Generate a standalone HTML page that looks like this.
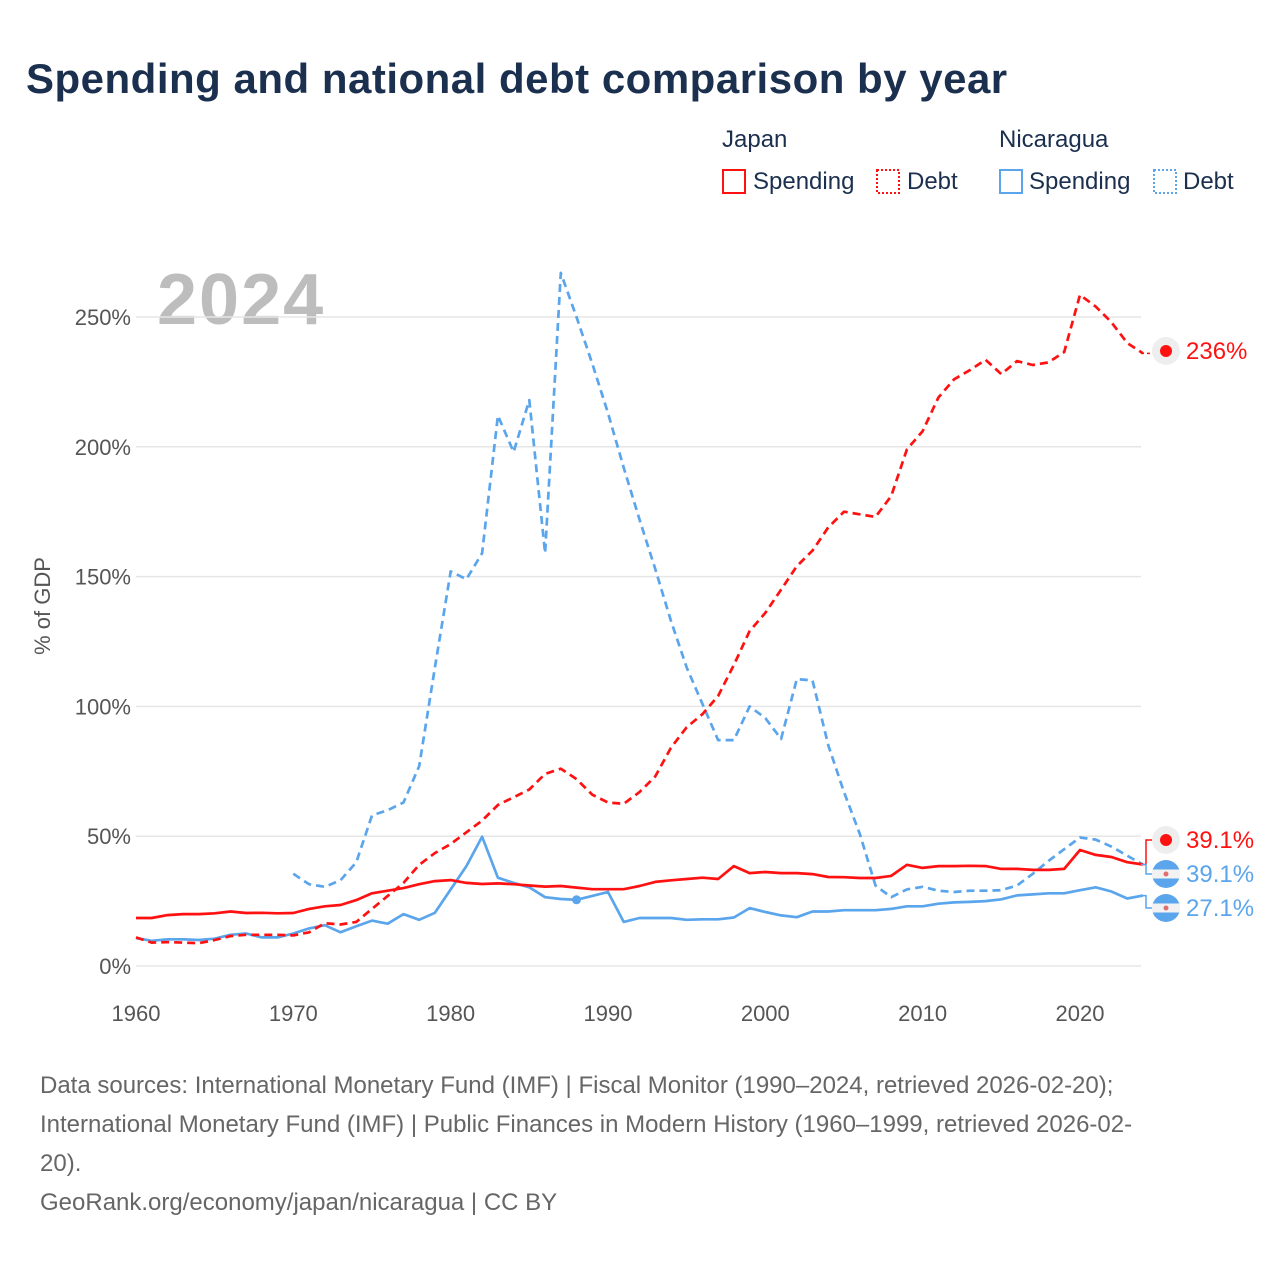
<!DOCTYPE html>
<html><head><meta charset="utf-8"><style>
body{margin:0;background:#fff;font-family:"Liberation Sans",sans-serif}
svg{display:block}
</style></head><body>
<svg width="1280" height="1280" id="chart" xmlns="http://www.w3.org/2000/svg">
<text x="26" y="93" font-size="42" font-weight="bold" fill="#1b2f4e" letter-spacing="0.5">Spending and national debt comparison by year</text>
<g font-size="24" fill="#1b2f4e">
<text x="722" y="147">Japan</text>
<text x="999" y="147">Nicaragua</text>
<g><rect x="723" y="170" width="22" height="23" fill="none" stroke="#ff1111" stroke-width="2"/><text x="753" y="189">Spending</text></g>
<g><rect x="877" y="170" width="22" height="23" fill="none" stroke="#ff1111" stroke-width="2" stroke-dasharray="2,2"/><text x="907" y="189">Debt</text></g>
<g><rect x="1000" y="170" width="22" height="23" fill="none" stroke="#5aa5ec" stroke-width="2"/><text x="1029" y="189">Spending</text></g>
<g><rect x="1154" y="170" width="22" height="23" fill="none" stroke="#5aa5ec" stroke-width="2" stroke-dasharray="2,2"/><text x="1183" y="189">Debt</text></g>
</g>
<text x="157" y="324" font-size="72" font-weight="bold" fill="#bdbdbd" letter-spacing="2">2024</text>
<text transform="translate(50,606) rotate(-90)" text-anchor="middle" font-size="22" fill="#555">% of GDP</text>
<g id="grid"></g><g id="lines"></g><g id="marks"></g>
<g font-size="24" fill="#666">
<text x="40" y="1093">Data sources: International Monetary Fund (IMF) | Fiscal Monitor (1990–2024, retrieved 2026-02-20);</text>
<text x="40" y="1132">International Monetary Fund (IMF) | Public Finances in Modern History (1960–1999, retrieved 2026-02-</text>
<text x="40" y="1171">20).</text>
<text x="40" y="1210">GeoRank.org/economy/japan/nicaragua | CC BY</text>
</g>
</svg>
<script>
const yTicks=[0,50,100,150,200,250];
const xTicks=[1960,1970,1980,1990,2000,2010,2020];
const japanSpending=[18.5,18.5,19.6,20,20,20.3,21,20.4,20.5,20.3,20.4,22,23,23.5,25.4,28,29,30,31.5,32.7,33.1,32,31.6,31.8,31.5,31,30.6,30.8,30.2,29.6,29.6,29.6,30.8,32.4,33,33.5,34,33.5,38.5,35.8,36.2,35.8,35.8,35.4,34.3,34.2,33.9,33.9,34.7,39,37.8,38.5,38.5,38.6,38.5,37.4,37.4,37,37,37.4,44.7,42.8,42,40,39.1];
const japanDebt=[11,9,9.2,9,8.8,10,11.5,12,12,12,11.8,13,16.5,16,17,22,27,32,39,43.5,47,51.5,56,62,65,68,74,76,72,66,63,62.5,67,73,84,92,97,104,116,129,136,145,154,160,169,175,174,173,181,199,206,219,226,229.5,233.5,228,233,231.5,232.5,236.5,258.5,254,248,240,236];
const nicSpending=[10.8,9.7,10.3,10.3,10,10.5,12,12.5,11,11,12.5,14.5,15.7,13,15.3,17.5,16.3,20,17.8,20.5,29.5,38.5,49.8,34,32,30.3,26.5,25.8,25.5,27,28.5,17,18.5,18.5,18.5,17.8,18,18,18.7,22.3,20.8,19.5,18.8,21,21,21.5,21.5,21.5,22,23,23,24,24.5,24.7,25,25.7,27.2,27.6,28,28,29.2,30.3,28.7,26,27.1];
const nicDebt=[35.5,31.5,30.5,33,40,58,60,63,77,115,152,149,159,212,198,218,159,267,250,232,213,192,172,153,133,115,101,87,87,100,95.5,87.5,110.5,110,85,67,51,31,26.5,29.5,30.5,29,28.5,29,29,29.2,31,35.5,40.5,45,49.5,48.7,46,42.5,39.1];
const X=y=>136+(y-1960)*15.733;
const Y=v=>966-v*2.596;
const NS="http://www.w3.org/2000/svg";
function mk(tag,attrs,parent){const e=document.createElementNS(NS,tag);for(const k in attrs)e.setAttribute(k,attrs[k]);parent.appendChild(e);return e;}
const grid=document.getElementById('grid');
yTicks.forEach(t=>{
 const l=mk('line',{x1:136,x2:1141,y1:Y(t),y2:Y(t),stroke:'#e6e6e6','stroke-width':1.5},grid);
 
 
 const tx=mk('text',{x:131,y:Y(t)+8,'text-anchor':'end','font-size':22,fill:'#555'},grid);
 tx.textContent=t+'%';
 
 
});
xTicks.forEach(t=>{
 const tx=mk('text',{x:X(t),y:1021,'text-anchor':'middle','font-size':22,fill:'#555'},grid);
 tx.textContent=t;
 
 
});
const lines=document.getElementById('lines');
function series(arr,start,color,dash,name){
 const d=arr.map((v,i)=>(i?'L':'M')+X(start+i).toFixed(1)+','+Y(v).toFixed(1)).join(' ');
 const p=mk('path',{d:d,fill:'none',stroke:color,'stroke-width':2.7,'stroke-linejoin':'round'},lines);
 if(dash)p.setAttribute('stroke-dasharray','8,5');
 
 
}
series(nicDebt,1970,'#5aa5ec',true,'nicaragua-debt-line');
series(nicSpending,1960,'#5aa5ec',false,'nicaragua-spending-line');
series(japanDebt,1960,'#ff1111',true,'japan-debt-line');
series(japanSpending,1960,'#ff1111',false,'japan-spending-line');
const dot=mk('circle',{cx:X(1988),cy:Y(nicSpending[28]),r:4.5,fill:'#5aa5ec'},lines);


const marks=document.getElementById('marks');
function endLabel(val,ly,color,name,isJapan){
 const g=mk('g',{},marks);
 
 
 const vy=Y(val);
 if(Math.abs(vy-ly)>3){mk('path',{d:`M1141,${vy} L1146,${vy} L1146,${ly} L1152,${ly}`,fill:'none',stroke:color,'stroke-width':1.5},g);}
 else mk('line',{x1:1141,x2:1152,y1:vy,y2:vy,stroke:color,'stroke-width':1.5,'stroke-dasharray':'3,3'},g);
 if(isJapan){mk('circle',{cx:1166,cy:ly,r:14,fill:'#eee'},g);mk('circle',{cx:1166,cy:ly,r:6,fill:'#ff1111'},g);}
 else{mk('circle',{cx:1166,cy:ly,r:14,fill:'#5aa5ec'},g);mk('rect',{x:1152,y:ly-4.5,width:28,height:9,fill:'#f2f2f2'},g);mk('circle',{cx:1166,cy:ly,r:2.5,fill:'#e07070'},g);}
 const t=mk('text',{x:1186,y:ly+8,'font-size':24,fill:color},g);
 t.textContent=val.toFixed(val>=100?0:1)+'%';
}
endLabel(japanDebt[japanDebt.length-1],351,'#ff1111','japan-debt-end-label',true);
endLabel(japanSpending[japanSpending.length-1],840,'#ff1111','japan-spending-end-label',true);
endLabel(nicDebt[nicDebt.length-1],874,'#5aa5ec','nicaragua-debt-end-label',false);
endLabel(nicSpending[nicSpending.length-1],908,'#5aa5ec','nicaragua-spending-end-label',false);
</script>
</body></html>
